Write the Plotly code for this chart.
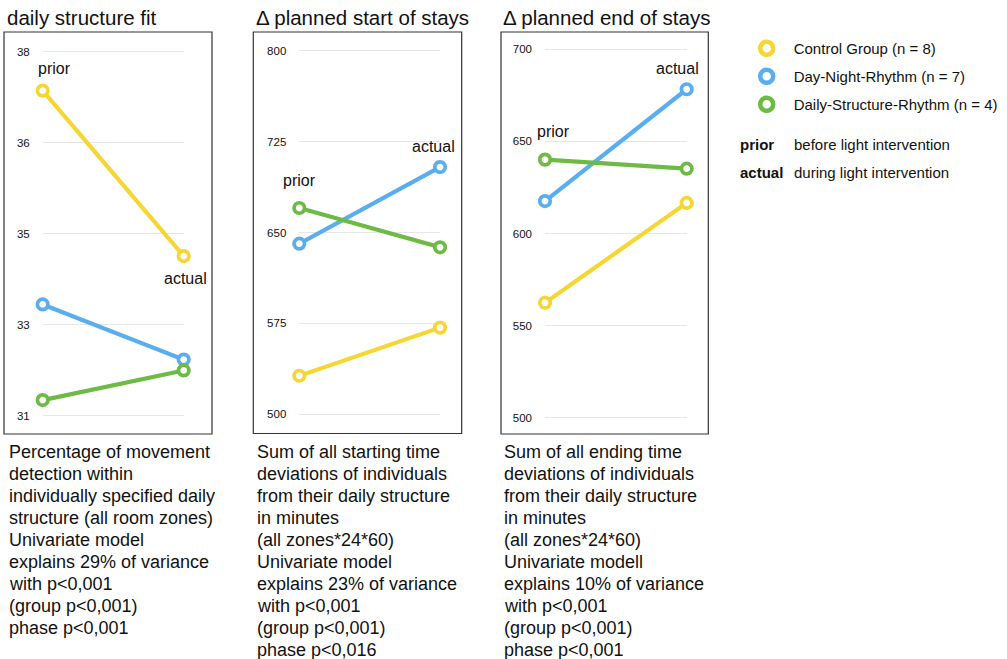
import plotly.graph_objects as go

W, H = 1007, 659
FONT = "Liberation Sans, Arial, Helvetica, sans-serif"

# ---- data -------------------------------------------------------------
phases = ["prior", "actual"]
groups = ["Control Group (n = 8)", "Day-Night-Rhythm (n = 7)", "Daily-Structure-Rhythm (n = 4)"]
colors = ["#F5D632", "#5AADEE", "#6DBA45"]

fit_control = [37.25, 34.07]
fit_daynight = [33.14, 32.08]
fit_dailystruct = [31.30, 31.87]

start_control = [531.8, 571.5]
start_daynight = [640.8, 704.0]
start_dailystruct = [670.2, 637.8]

end_control = [562.4, 616.6]
end_daynight = [617.6, 678.3]
end_dailystruct = [640.1, 635.2]

fit_ticks = [31, 32.75, 34.5, 36.25, 38]
fit_ticktext = ["31", "33", "35", "36", "38"]
start_ticks = [500, 575, 650, 725, 800]
end_ticks = [500, 550, 600, 650, 700]

titles = ["daily structure fit", "Δ planned start of stays", "Δ planned end of stays"]

notes = [
    ["Percentage of movement", "detection within", "individually specified daily",
     "structure (all room zones)", "Univariate model", "explains 29% of variance",
     "with p<0,001", "(group p<0,001)", "phase p<0,001"],
    ["Sum of all starting time", "deviations of individuals", "from their daily structure",
     "in minutes", "(all zones*24*60)", "Univariate model", "explains 23% of variance",
     "with p<0,001", "(group p<0,001)", "phase p<0,016"],
    ["Sum of all ending time", "deviations of individuals", "from their daily structure",
     "in minutes", "(all zones*24*60)", "Univariate modell", "explains 10% of variance",
     "with p<0,001", "(group p<0,001)", "phase p<0,001"],
]

legend_terms = [("prior", "before light intervention"), ("actual", "during light intervention")]

# ---- panel geometry (pixels) -----------------------------------------
panels = [
    dict(series=[fit_control, fit_daynight, fit_dailystruct], ticks=fit_ticks, ticktext=fit_ticktext,
         box=(4, 212, 32, 434), grid=(42.7, 183.7), ypx=(51.7, 415.7),
         title_x=5, note_x=7,
         prior_lbl=(54, 68), actual_lbl=(185, 278)),
    dict(series=[start_control, start_daynight, start_dailystruct], ticks=start_ticks,
         ticktext=[str(t) for t in start_ticks],
         box=(253.3, 461.7, 32, 433.5), grid=(299.3, 440), ypx=(50.7, 414.3),
         title_x=253.7, note_x=255.3,
         prior_lbl=(299, 181), actual_lbl=(433, 147)),
    dict(series=[end_control, end_daynight, end_dailystruct], ticks=end_ticks,
         ticktext=[str(t) for t in end_ticks],
         box=(501, 708.3, 32, 434), grid=(545, 686.7), ypx=(49.3, 417.7),
         title_x=501, note_x=502,
         prior_lbl=(553.5, 131), actual_lbl=(677.5, 68)),
]


def px_x(x):
    return x / W


def px_y(y):
    return 1 - y / H


fig = go.Figure()
layout = dict(
    width=W, height=H,
    margin=dict(l=0, r=0, t=0, b=0),
    paper_bgcolor="white", plot_bgcolor="white",
    font=dict(family=FONT, color="#1a1a1a"),
    showlegend=True,
)
shapes, annotations = [], []

for i, p in enumerate(panels):
    k = "" if i == 0 else str(i + 1)
    bl, br, bt, bb = p["box"]
    vtop, vbot = max(p["ticks"]), min(p["ticks"])
    pxt, pxb = p["ypx"]
    per_px = (vtop - vbot) / (pxb - pxt)
    yr = [vbot - (bb - pxb) * per_px, vtop + (pxt - bt) * per_px]

    layout["xaxis" + k] = dict(
        domain=[px_x(p["grid"][0]), px_x(p["grid"][1])], anchor="y" + k,
        type="category", range=[0, 1], visible=False, fixedrange=True,
    )
    layout["yaxis" + k] = dict(
        domain=[px_y(bb), px_y(bt)], anchor="x" + k, range=yr,
        tickvals=p["ticks"], ticktext=p["ticktext"],
        showgrid=True, gridcolor="#e6e6e6", gridwidth=1,
        zeroline=False, showline=False, ticks="",
        ticklabelstandoff=12, tickfont=dict(size=11.5, color="#111"),
        fixedrange=True,
    )

    for vals, col in zip(p["series"], colors):
        fig.add_trace(go.Scatter(
            x=phases, y=vals, xaxis="x" + k, yaxis="y" + k,
            mode="lines+markers", showlegend=False, cliponaxis=False,
            line=dict(color=col, width=4.2),
            marker=dict(symbol="circle", size=10.5, color="white", line=dict(color=col, width=3.7)),
            hoverinfo="skip",
        ))

    # frame around each panel
    shapes.append(dict(type="rect", xref="paper", yref="paper",
                       x0=px_x(bl), x1=px_x(br), y0=px_y(bb), y1=px_y(bt),
                       line=dict(color="#333", width=1.2), layer="above"))

    annotations.append(dict(text=titles[i], xref="paper", yref="paper",
                            x=px_x(p["title_x"]), y=px_y(18), xanchor="left", yanchor="middle",
                            showarrow=False, font=dict(size=20.5, color="#111")))
    for word, (lx, ly) in (("prior", p["prior_lbl"]), ("actual", p["actual_lbl"])):
        annotations.append(dict(text=word, xref="paper", yref="paper",
                                x=px_x(lx), y=px_y(ly), xanchor="center", yanchor="middle",
                                showarrow=False, font=dict(size=16, color="#111")))
    for j, line in enumerate(notes[i]):
        annotations.append(dict(text=line, xref="paper", yref="paper",
                                x=px_x(p["note_x"]), y=px_y(452 + 22 * j),
                                xanchor="left", yanchor="middle",
                                showarrow=False, font=dict(size=18, color="#111")))

# legend entries (markers only)
for g, col in zip(groups, colors):
    fig.add_trace(go.Scatter(
        x=[None], y=[None], mode="markers", name=g, legendgroup=g,
        marker=dict(symbol="circle", size=13, color="white", line=dict(color=col, width=4.5)),
    ))

layout["legend"] = dict(
    x=px_x(739.7), y=px_y(32), xanchor="left", yanchor="top",
    font=dict(size=15, color="#111"), itemwidth=44, tracegroupgap=5.5,
    bgcolor="rgba(0,0,0,0)", traceorder="grouped",
)

for j, (term, desc) in enumerate(legend_terms):
    yy = px_y(145 + 27.7 * j)
    annotations.append(dict(text="<b>" + term + "</b>", xref="paper", yref="paper",
                            x=px_x(738), y=yy, xanchor="left", yanchor="middle",
                            showarrow=False, font=dict(size=15, color="#111")))
    annotations.append(dict(text=desc, xref="paper", yref="paper",
                            x=px_x(791.5), y=yy, xanchor="left", yanchor="middle",
                            showarrow=False, font=dict(size=15, color="#111")))

layout["shapes"] = shapes
layout["annotations"] = annotations
fig.update_layout(**layout)
fig.write_html("out.html")
